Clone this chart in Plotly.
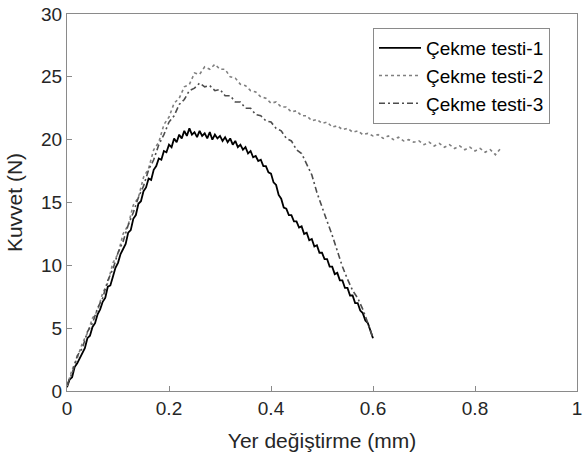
import plotly.graph_objects as go

# ---- data ----
X_STEP_1 = 0.005
X_STEP_23 = 0.01

test1_y = [0.3, 0.9, 1.1, 1.9, 2.2, 2.6, 3.1, 3.4, 4.2, 4.4,
           5.1, 5.4, 6.1, 6.5, 7.1, 7.4, 8.3, 8.4, 9.1, 9.8,
           10.2, 10.9, 11.3, 11.7, 12.6, 12.8, 13.7, 14.0, 14.9, 15.1,
           15.9, 16.2, 16.9, 16.8, 17.6, 17.9, 18.5, 18.4, 19.1, 19.0,
           19.6, 19.4, 20.1, 19.8, 20.4, 20.1, 20.7, 20.3, 20.9, 20.4,
           20.6, 20.2, 20.7, 20.3, 20.5, 20.1, 20.6, 20.0, 20.4, 20.1,
           20.3, 19.9, 20.2, 19.8, 20.1, 19.6, 19.9, 19.4, 19.6, 19.2,
           19.4, 18.9, 19.1, 18.6, 18.7, 18.3, 18.4, 17.9, 17.9, 17.4,
           17.3, 16.6, 16.4, 15.6, 15.3, 14.6, 14.5, 14.0, 14.0, 13.5,
           13.5, 13.0, 13.1, 12.5, 12.6, 12.0, 12.1, 11.5, 11.6, 11.0,
           11.0, 10.5, 10.5, 9.9, 9.9, 9.3, 9.4, 8.8, 8.8, 8.2,
           8.2, 7.6, 7.6, 7.0, 7.0, 6.4, 6.2, 5.6, 5.4, 4.7,
           4.2]

test2_y = [0.4, 1.7, 2.6, 3.8, 4.6, 5.8, 6.4, 7.8, 8.6, 10.2,
           10.9, 12.5, 13.2, 14.8, 15.4, 17.0, 17.7, 19.2, 19.8, 21.2,
           21.8, 22.9, 23.3, 24.2, 24.4, 25.3, 25.2, 25.8, 25.6, 26.0,
           25.6, 25.6, 25.0, 24.9, 24.4, 24.3, 23.9, 23.8, 23.4, 23.3,
           22.9, 23.0, 22.6, 22.6, 22.2, 22.3, 21.9, 21.9, 21.5, 21.6,
           21.3, 21.4, 21.0, 21.1, 20.8, 20.9, 20.6, 20.7, 20.4, 20.5,
           20.3, 20.4, 20.1, 20.3, 20.0, 20.2, 19.9, 20.0, 19.8, 19.9,
           19.6, 19.8, 19.5, 19.7, 19.4, 19.6, 19.3, 19.5, 19.2, 19.4,
           19.1, 19.3, 19.0, 19.2, 18.8, 19.3]

test3_y = [0.5, 1.4, 2.8, 3.4, 4.7, 5.4, 6.6, 7.4, 8.8, 9.7,
           11.0, 11.9, 13.2, 14.2, 15.4, 16.3, 17.6, 18.4, 19.6, 20.4,
           21.4, 21.9, 22.8, 23.2, 23.9, 24.1, 24.5, 24.2, 24.3, 23.9,
           24.0, 23.5, 23.5, 23.0, 23.0, 22.5, 22.5, 22.0, 21.9, 21.5,
           21.4, 20.9, 20.7, 20.1, 19.9, 19.2, 18.9, 18.1, 17.2, 15.8,
           14.6, 13.5, 12.4, 11.1, 9.9, 8.9, 8.0, 7.4, 6.5, 5.4,
           4.2]

names = ["Çekme testi-1", "Çekme testi-2", "Çekme testi-3"]
x_ticks = [0, 0.2, 0.4, 0.6, 0.8, 1]
x_tick_text = ["0", "0.2", "0.4", "0.6", "0.8", "1"]
y_ticks = [0, 5, 10, 15, 20, 25, 30]

test1_x = [round(i * X_STEP_1, 4) for i in range(len(test1_y))]
test2_x = [round(i * X_STEP_23, 4) for i in range(len(test2_y))]
test3_x = [round(i * X_STEP_23, 4) for i in range(len(test3_y))]

FONT = "Liberation Sans, Arial, sans-serif"
AXCOL = "#8a8a8a"
TXT = "#262626"
TICK_SIZE = 19
TITLE_SIZE = 21

fig = go.Figure()
fig.add_trace(go.Scatter(x=test1_x, y=test1_y, mode="lines", name=names[0],
                         line=dict(color="#000000", width=1.8)))
fig.add_trace(go.Scatter(x=test2_x, y=test2_y, mode="lines", name=names[1],
                         line=dict(color="#808080", width=1.6, dash="dot")))
fig.add_trace(go.Scatter(x=test3_x, y=test3_y, mode="lines", name=names[2],
                         line=dict(color="#4d4d4d", width=1.6, dash="6px,3px,2px,3px")))

fig.update_layout(
    width=584, height=463,
    margin=dict(l=67, r=2, t=14, b=72),
    paper_bgcolor="white", plot_bgcolor="white",
    font=dict(family=FONT, size=TICK_SIZE, color=TXT),
    showlegend=True,
    legend=dict(x=0.6, y=0.963, xanchor="left", yanchor="top",
                bgcolor="white", bordercolor=AXCOL, borderwidth=1,
                font=dict(family=FONT, size=19, color="#000000"),
                itemwidth=42, tracegroupgap=0),
)
fig.update_xaxes(range=[0, 1], tickvals=x_ticks, ticktext=x_tick_text,
                 showgrid=False, zeroline=False, showline=True, linecolor=AXCOL,
                 linewidth=1, mirror=True, ticks="inside", ticklen=5, tickcolor=AXCOL,
                 ticklabeloverflow="allow",
                 tickfont=dict(size=TICK_SIZE, color=TXT),
                 title=dict(text="Yer değiştirme (mm)", font=dict(size=TITLE_SIZE, color=TXT), standoff=15))
fig.update_yaxes(range=[0, 30], tickvals=y_ticks,
                 showgrid=False, zeroline=False, showline=True, linecolor=AXCOL,
                 linewidth=1, mirror=True, ticks="inside", ticklen=5, tickcolor=AXCOL,
                 tickfont=dict(size=TICK_SIZE, color=TXT),
                 title=dict(text="Kuvvet (N)", font=dict(size=TITLE_SIZE, color=TXT), standoff=12))

fig.write_html("out.html")
